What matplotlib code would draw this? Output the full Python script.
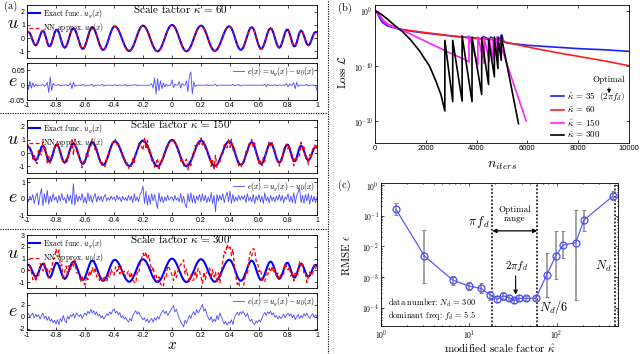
import numpy as np
import matplotlib.pyplot as plt
from matplotlib.lines import Line2D
from matplotlib.ticker import FixedLocator, FixedFormatter, FuncFormatter, NullLocator, LogLocator, NullFormatter

plt.rcParams['mathtext.fontset'] = 'cm'
plt.rcParams['font.family'] = 'Liberation Sans'
plt.rcParams['axes.unicode_minus'] = False
plt.rcParams['axes.linewidth'] = 0.6
plt.rcParams['xtick.direction'] = 'in'
plt.rcParams['ytick.direction'] = 'in'
plt.rcParams['xtick.top'] = True
plt.rcParams['ytick.right'] = True
plt.rcParams['xtick.labelsize'] = 5
plt.rcParams['ytick.labelsize'] = 5
plt.rcParams['xtick.major.size'] = 2
plt.rcParams['ytick.major.size'] = 2
plt.rcParams['xtick.minor.size'] = 1
plt.rcParams['ytick.minor.size'] = 1
plt.rcParams['xtick.major.width'] = 0.5
plt.rcParams['ytick.major.width'] = 0.5
plt.rcParams['xtick.major.pad'] = 1.5
plt.rcParams['ytick.major.pad'] = 1.5
SERIF = 'cmr10'

###############################
# data (a): u(x) and errors
###############################
x_ticks = [-1, -0.8, -0.6, -0.4, -0.2, 0, 0.2, 0.4, 0.6, 0.8, 1]
x_tick_lbl = ['-1', '-0.8', '-0.6', '-0.4', '-0.2', '0', '0.2', '0.4', '0.6', '0.8', '1']

# exact function u_g on x = 0, 0.01, ..., 1 (even function)
u_half = [1.00, 0.95, 0.81, 0.59, 0.31, 0.00, -0.31, -0.59, -0.81, -0.95,
          -1.00, -0.95, -0.81, -0.60, -0.33, -0.03, 0.28, 0.55, 0.76, 0.90,
          0.95, 0.90, 0.75, 0.52, 0.23, -0.09, -0.40, -0.66, -0.86, -0.96,
          -0.96, -0.87, -0.70, -0.46, -0.18, 0.11, 0.39, 0.63, 0.80, 0.89,
          0.88, 0.75, 0.50, 0.18, -0.18, -0.50, -0.75, -0.88, -0.88, -0.74,
          -0.47, -0.13, 0.23, 0.54, 0.76, 0.83, 0.74, 0.47, 0.10, -0.29,
          -0.61, -0.80, -0.80, -0.62, -0.31, 0.06, 0.41, 0.66, 0.75, 0.65,
          0.38, 0.01, -0.36, -0.63, -0.73, -0.62, -0.32, 0.06, 0.42, 0.63,
          0.63, 0.39, 0.01, -0.37, -0.61, -0.60, -0.34, 0.07, 0.43, 0.57,
          0.46, 0.18, -0.16, -0.44, -0.55, -0.45, -0.20, 0.12, 0.37, 0.47,
          0.44]

# e(x) on x = -1, -0.99, ..., 1
err60 = [12, -15, 14, -10, 8, -6, 3, -2, 0, 0,
         0, 2, -3, 0, 10, -25, 28, -18, 6, 0,
         0, 0, 3, -3, 0, 0, 0, 2, -2, 0,
         8, -12, 10, -4, 0, 0, 0, 0, 0, 3,
         -3, 0, 0, 0, 0, 4, -4, 0, 0, 0,
         0, 0, 3, -3, 0, 0, 0, 0, 0, 0,
         0, 2, -2, 0, 0, 0, 0, 0, 3, -3,
         0, 0, 0, 0, 0, 2, -2, 0, 0, 0,
         0, 0, 0, 0, 0, 0, 5, -10, 25, -30,
         22, -18, 15, -12, 8, -6, 4, -3, 0, 0,
         18, -8, 4, 0, 0, 12, -10, 6, 0, 0,
         15, -22, 30, 45, -30, 12, -5, 0, 0, 0,
         0, 0, 0, 0, 2, -2, 0, 0, 0, 0,
         3, -3, 0, 0, 0, 0, 0, 0, 0, 0,
         0, 0, 2, -2, 0, 0, 3, -3, 0, 0,
         0, 0, 0, 0, 0, 0, 0, 0, 0, 0,
         0, 0, 0, 0, 4, -5, 3, 0, 0, 0,
         0, 2, -2, 0, 0, 0, 0, 0, 0, 5,
         -6, 4, 0, 0, 8, -12, 10, -4, 0, 0,
         0, 0, 0, 3, -3, 0, 0, 0, 0, 0,
         -18]
err60_unit = 0.001

err150 = [5, -20, 15, -10, 25, -30, 10, 35, -40, 20,
          60, -45, 30, -25, 50, -35, 15, -20, 30, -10,
          10, -25, 20, -15, 30, -10, 5, -30, 25, -15,
          20, -35, 90, -40, 25, -20, 15, -10, 30, -25,
          10, -30, 35, -15, 20, -25, 10, 30, -20, 15,
          -10, 15, -20, 10, 25, -15, 5, -10, 15, -5,
          10, -15, 20, -5, 10, -20, 15, -10, 5, -15,
          20, -10, 15, -25, 30, -15, 10, -20, 25, 40,
          75, -30, 45, -40, 20, -35, 30, -15, 25, -20,
          -60, 35, -20, 15, -25, 10, -15, 20, -10, 5,
          10, -15, 20, -10, 5, -20, 30, -25, 15, -35,
          -55, 30, -20, 35, -25, 20, -30, 15, -10, 25,
          -20, 30, -15, 20, -25, 10, -20, 35, -30, 20,
          -80, 25, -15, 20, -10, 30, -25, 15, 40, -20,
          45, -30, 25, -20, 10, -15, 20, -10, 15, -5,
          20, -25, 30, -15, 10, -20, 25, -30, 15, -10,
          25, -20, 15, -30, 35, -15, 10, -25, 20, -15,
          10, -20, 15, -10, 25, -15, 20, -25, 10, -5,
          30, -20, 15, -25, 35, -30, 20, 40, 60, -25,
          20, -30, 25, -15, 30, -35, 20, -20, 15, -25,
          10]
err150_unit = 0.01

err300 = [3, 5, 0, 2, 6, -2, 4, 0, 3, -4,
          2, 6, -3, 1, -6, 0, -8, -4, -10, -6,
          -12, -5, -13, -3, -8, 2, -6, -10, 1, -4,
          3, 0, 5, -2, 6, 3, 0, 4, -3, 2,
          6, 2, 9, 5, 12, 6, 10, 3, 8, 1,
          4, -2, 1, -4, 0, 5, 2, 8, 4, 10,
          13, 6, 9, 3, 7, -2, 2, -4, -1, -6,
          -9, -3, -7, 2, 6, 10, 4, 8, 2, -1,
          -5, -2, -8, -4, -10, -6, -3, -9, -2, -6,
          0, -4, 3, 7, 11, 5, 9, 2, 6, 10,
          14, 18, 8, 12, 4, -3, -8, -12, -17, -6,
          -11, -4, 2, -3, 5, 8, 3, 12, 6, 10,
          15, 20, 9, 13, 4, -2, -6, 0, -9, -4,
          -8, 2, -5, 6, 0, -6, -12, -8, -14, -9,
          -11, -5, -13, -2, 3, 7, 2, 8, 5, 9,
          4, 0, 6, -3, -8, -4, -11, -13, -7, -10,
          -5, -9, -2, 3, 7, 2, 8, 5, 9, 3,
          6, -1, 2, -4, 1, -3, 0, 4, -2, 3,
          6, 1, 5, -2, 3, -5, 0, 4, -3, 2,
          -2, 5, 1, 6, 0, -3, 2, 5, -1, 3,
          0]
err300_unit = 0.1

kappa_cases = [60, 150, 300]

###############################
# data (b): loss histories (log10 of loss)
###############################
it35 = [0, 100, 200, 300, 500, 800, 1000, 1500, 2000, 3000, 4000, 4200, 4250, 4500, 4550,
        4800, 4850, 4950, 5000, 5050, 5200, 6000, 7000, 8000, 9000, 10000]
lg35 = [0, -0.6, -1.5, -2.2, -2.8, -3.2, -3.4, -3.8, -4.1, -4.6, -5.0, -5.1, -4.7, -5.2, -4.8,
        -5.3, -4.8, -5.3, -4.4, -5.6, -5.9, -6.3, -6.6, -6.9, -7.1, -7.4]
it60 = [0, 100, 200, 300, 500, 800, 1000, 2000, 3000, 4000, 5000, 5200, 6000, 7000, 8000, 9000, 10000]
lg60 = [0, -0.4, -1.0, -1.7, -2.5, -3.1, -3.4, -4.0, -4.6, -5.1, -5.4, -5.8, -6.6, -7.5, -8.3, -9.1, -10.0]
it150 = [0, 200, 400, 600, 1000, 1500, 2000, 2500, 3000, 3500, 3700, 3700, 4050, 4050, 4300, 4300,
         4500, 4500, 4650, 4650, 4800, 4800, 4950, 4950, 5000, 5400, 5950]
lg150 = [0, -1.0, -2.2, -2.8, -3.4, -4.5, -5.6, -6.7, -7.8, -8.8, -9.3, -4.6, -9.8, -4.8, -9.6, -5.0,
         -9.2, -5.2, -8.8, -5.0, -8.4, -4.8, -7.5, -4.5, -7.0, -12.5, -20.0]
it300 = [0, 250, 500, 800, 1100, 1400, 1750, 2150, 2400, 2600, 2750, 2750, 3060, 3060, 3430, 3430,
         3820, 3820, 4200, 4200, 4470, 4470, 4700, 4700, 4840, 4840, 4970, 4970, 5650]
lg300 = [0, -0.7, -1.6, -2.8, -3.9, -5.3, -7.3, -10.1, -12.8, -15.3, -18.2, -5.4, -16.5, -5.4, -16.4, -4.6,
         -16.5, -4.8, -15.2, -5.0, -13.4, -5.2, -12.0, -4.8, -10.5, -5.0, -9.0, -4.6, -20.5]
loss_labels = [r'$\hat{\kappa}\,=\,35\ \ (2\pi f_d)$', r'$\hat{\kappa}\,=\,60$',
               r'$\hat{\kappa}\,=\,150$', r'$\hat{\kappa}\,=\,300$']
loss_colors = ['#1f1fff', '#ff1f1f', '#ff1fff', 'black']

###############################
# data (c): RMSE vs scale factor
###############################
kappa = [1.48, 3.12, 6.55, 10.1, 13.8, 17.4, 21.1, 24.7, 28.7, 33.0, 37.0, 44.8, 57.8,
         77.1, 97.7, 119, 165, 205, 435]
rmse = [0.16, 4.8e-3, 7.9e-4, 5.0e-4, 4.2e-4, 2.6e-4, 1.9e-4, 2.4e-4, 2.1e-4, 1.7e-4,
        2.0e-4, 2.0e-4, 2.0e-4, 1.15e-3, 4.9e-3, 1.1e-2, 1.3e-2, 7.2e-2, 0.42]
rmse_hi = [0.25, 0.034, 1.07e-3, 6.9e-4, 6.2e-4, 3.4e-4, 2.4e-4, 3.2e-4, 2.6e-4, 2.1e-4,
           2.5e-4, 2.4e-4, 2.4e-4, 5.9e-3, 0.032, 0.032, 0.15, 0.15, 0.62]
rmse_lo = [0.105, 6.4e-4, 5.4e-4, 3.7e-4, 2.9e-4, 1.8e-4, 1.5e-4, 1.8e-4, 1.7e-4, 1.4e-4,
           1.6e-4, 1.7e-4, 1.7e-4, 2.2e-4, 8.3e-4, 4.0e-3, 1.7e-4, 0.032, 0.32]
vlines_c = [18.5, 60.3, 462]   # pi f_d, N_d/6, N_d as drawn


def rect(l, t, r, b):
    return [l / 640, 1 - b / 354, (r - l) / 640, (b - t) / 354]


def fx(px):
    return px / 640


def fy(py):
    return 1 - py / 354


fig = plt.figure(figsize=(6.4, 3.54), dpi=100)

xg = np.linspace(-1, 1, 201)
ug = np.concatenate([np.array(u_half)[:0:-1], np.array(u_half)])
errs = [np.array(err60) * err60_unit, np.array(err150) * err150_unit, np.array(err300) * err300_unit]

tops = [5, 120, 235]
u_ylims = [(-1.5, 2.5), (-1.5, 2.5), (-1.5, 3)]
u_yt = [[-1, 0, 1, 2], [-1, 0, 1, 2], [-1, 0, 1, 2, 3]]
e_ylims = [(-0.05, 0.075), (-1, 1.25), (-2.2, 3.9)]
e_yt = [[-0.05, 0, 0.05], [-1, 0, 1], [-2, 0, 2]]
e_ytl = [['-0.05', '0', '0.05'], ['-1', '0', '1'], ['-2', '0', '2']]

for i in range(3):
    t = tops[i]
    axu = fig.add_axes(rect(27, t, 317, t + 53))
    axe = fig.add_axes(rect(27, t + 58, 317, t + 95))
    e = errs[i]
    axu.plot(xg, ug, color='blue', lw=1.5, label=r'Exact func. $u_g(x)$')
    axu.plot(xg, ug - e, color='red', lw=0.9, ls=(0, (3, 2)), label=r'NN approx. $u_0(x)$')
    axu.set_xlim(-1, 1)
    axu.set_ylim(*u_ylims[i])
    axu.xaxis.set_major_locator(FixedLocator(x_ticks))
    axu.xaxis.set_major_formatter(NullFormatter())
    axu.yaxis.set_major_locator(FixedLocator(u_yt[i]))
    axu.yaxis.set_major_formatter(FixedFormatter([str(v) for v in u_yt[i]]))
    axu.legend(loc='upper left', frameon=False, prop={'family': SERIF, 'size': 5.5},
               handlelength=1.4, handletextpad=0.4, labelspacing=0.15, borderaxespad=0.2,
               borderpad=0.1)
    axu.text(0.53, 0.9, r'Scale factor $\hat{\kappa}\,=\,%d$' % kappa_cases[i], transform=axu.transAxes,
             ha='center', va='center', family=SERIF, fontsize=8)

    axe.plot(xg, e, color='#4a4aff', lw=0.6, label=r'$e(x)=u_g(x)-u_0(x)$')
    axe.set_xlim(-1, 1)
    axe.set_ylim(*e_ylims[i])
    axe.xaxis.set_major_locator(FixedLocator(x_ticks))
    axe.xaxis.set_major_formatter(FixedFormatter(x_tick_lbl))
    axe.yaxis.set_major_locator(FixedLocator(e_yt[i]))
    axe.yaxis.set_major_formatter(FixedFormatter(e_ytl[i]))
    axe.legend(loc='upper right', frameon=False, prop={'family': SERIF, 'size': 5.5},
               handlelength=1.4, handletextpad=0.4, borderaxespad=0.2, borderpad=0.1)

    fig.text(fx(13), fy(t + 19), '$u$', fontsize=13, ha='center', va='center')
    fig.text(fx(13), fy(t + 77), '$e$', fontsize=13, ha='center', va='center')

fig.text(fx(172), fy(345), '$x$', fontsize=11, ha='center', va='center')
fig.text(fx(4), fy(6), '(a)', family=SERIF, style='italic', fontsize=7.5, ha='left', va='center')

# separators
fig.add_artist(Line2D([0, fx(327)], [fy(113)] * 2, color='k', lw=0.8, ls=(0, (1, 1.2))))
fig.add_artist(Line2D([0, fx(327)], [fy(229)] * 2, color='k', lw=0.8, ls=(0, (1, 1.2))))
fig.add_artist(Line2D([fx(327.5)] * 2, [0, 1], color='k', lw=0.8, ls=(0, (1, 1.2))))
fig.add_artist(Line2D([fx(333)] * 2, [0, 1], color='0.75', lw=0.6, ls=(0, (1, 1.2))))


def log_fmt(v, pos):
    return r'$\mathsf{10^{%d}}$' % int(round(np.log10(v)))


###############################
# (b) loss
###############################
axb = fig.add_axes(rect(375, 5, 629, 143))
for its, lg, c, lab in zip([it35, it60, it150, it300], [lg35, lg60, lg150, lg300], loss_colors, loss_labels):
    axb.plot(its, 10.0 ** np.array(lg), color=c, lw=1.2, label=lab)
axb.set_yscale('log')
axb.set_ylim(1e-24, 10)
axb.set_xlim(0, 10000)
axb.yaxis.set_major_locator(FixedLocator([1e-20, 1e-10, 1]))
axb.yaxis.set_major_formatter(FuncFormatter(log_fmt))
axb.yaxis.set_minor_locator(NullLocator())
axb.xaxis.set_major_locator(FixedLocator([0, 2000, 4000, 6000, 8000, 10000]))
axb.xaxis.set_major_formatter(FixedFormatter(['0', '2000', '4000', '6000', '8000', '10000']))
axb.tick_params(labelsize=5.5)
axb.legend(loc='lower right', bbox_to_anchor=(0.985, 0.02), frameon=False, fontsize=6.5,
           handlelength=1.5, handletextpad=0.3, labelspacing=0.2, borderaxespad=0, borderpad=0)
fig.text(fx(609), fy(80), 'Optimal', family=SERIF, fontsize=6.5, ha='center', va='center')
axb.annotate('', xy=(fx(609), fy(96)), xytext=(fx(609), fy(85)), xycoords='figure fraction',
             textcoords='figure fraction', arrowprops=dict(arrowstyle='-|>', lw=0.7, color='k', mutation_scale=5))
fig.text(fx(342), fy(72), r'Loss $\mathcal{L}$', family=SERIF, fontsize=8, rotation=90, ha='center', va='center')
fig.text(fx(502), fy(165), r'$n_{iters}$', fontsize=10, ha='center', va='center')
fig.text(fx(338), fy(8), '(b)', family=SERIF, style='italic', fontsize=7.5, ha='left', va='center')

###############################
# (c) RMSE
###############################
axc = fig.add_axes(rect(381, 183, 618, 326))
k = np.array(kappa)
r = np.array(rmse)
axc.errorbar(k, r, yerr=[r - np.array(rmse_lo), np.array(rmse_hi) - r], fmt='none', ecolor='0.55',
             elinewidth=1.1, capsize=1.2, capthick=0.8, zorder=2)
axc.plot(k, r, '-o', color='#5a5aff', mfc='none', mec='#4a4aff', ms=5, mew=0.9, lw=0.9, zorder=3)
for v in vlines_c:
    axc.axvline(v, color='k', lw=1.1, ls=(0, (1.2, 1.2)), zorder=1)
axc.set_xscale('log')
axc.set_yscale('log')
axc.set_xlim(1, 500)
axc.set_ylim(2.5e-5, 1.15)
axc.yaxis.set_major_locator(FixedLocator([1e-4, 1e-3, 1e-2, 1e-1, 1]))
axc.yaxis.set_major_formatter(FuncFormatter(log_fmt))
axc.xaxis.set_major_locator(FixedLocator([1, 10, 100]))
axc.xaxis.set_major_formatter(FuncFormatter(log_fmt))
axc.xaxis.set_minor_locator(LogLocator(subs=np.arange(2, 10)))
axc.yaxis.set_minor_locator(LogLocator(subs=np.arange(2, 10)))
axc.xaxis.set_minor_formatter(NullFormatter())
axc.yaxis.set_minor_formatter(NullFormatter())
axc.tick_params(labelsize=5.5)
axc.tick_params(which='minor', direction='in', top=True, right=True)

axc.annotate('', xy=(vlines_c[1], 0.0316), xytext=(vlines_c[0], 0.0316),
             arrowprops=dict(arrowstyle='<|-|>', lw=0.9, color='k', mutation_scale=6, shrinkA=0, shrinkB=0))
axc.text(0.413, 0.727, r'$\pi\,f_d$', transform=axc.transAxes, fontsize=9, ha='center', va='center')
axc.text(0.565, 0.78, 'Optimal\nrange', transform=axc.transAxes, family=SERIF, fontsize=6.5,
         ha='center', va='center', linespacing=1.1)
axc.text(0.574, 0.42, r'$2\pi f_d$', transform=axc.transAxes, fontsize=8, ha='center', va='center')
axc.annotate('', xy=(0.568, 0.2), xytext=(0.568, 0.37), xycoords='axes fraction',
             arrowprops=dict(arrowstyle='-|>', lw=0.8, color='k', mutation_scale=6))
axc.text(0.665, 0.135, r'$N_d/6$', transform=axc.transAxes, fontsize=9, ha='left', va='center')
axc.text(0.975, 0.42, r'$N_d$', transform=axc.transAxes, fontsize=9, ha='right', va='center')
axc.text(0.031, 0.16, r'data number: $N_d\,=\,300$', transform=axc.transAxes, family=SERIF,
         fontsize=6, ha='left', va='center')
axc.text(0.031, 0.072, r'dominant freq: $f_d\,=\,5.5$', transform=axc.transAxes, family=SERIF,
         fontsize=6, ha='left', va='center')
fig.text(fx(346), fy(255), r'RMSE $\epsilon$', family=SERIF, fontsize=8, rotation=90, ha='center', va='center')
fig.text(fx(500), fy(347), r'modified scale factor $\hat{\kappa}$', family=SERIF, fontsize=8,
         ha='center', va='center')
fig.text(fx(338), fy(185), '(c)', family=SERIF, style='italic', fontsize=7.5, ha='left', va='center')

fig.savefig('out.png', dpi=100)
